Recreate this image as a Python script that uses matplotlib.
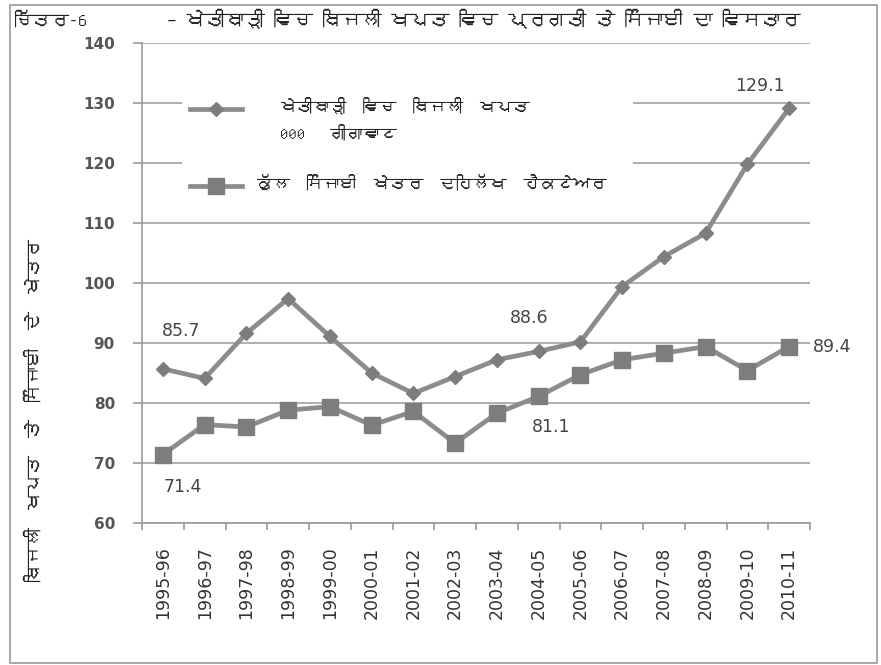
import matplotlib
matplotlib.use('Agg')
import matplotlib.pyplot as plt
from matplotlib import font_manager
from matplotlib.ft2font import FT2Font
from matplotlib.patches import Rectangle

years = ['1995-96', '1996-97', '1997-98', '1998-99', '1999-00', '2000-01',
         '2001-02', '2002-03', '2003-04', '2004-05', '2005-06', '2006-07',
         '2007-08', '2008-09', '2009-10', '2010-11']
# ਖੇਤੀਬਾੜੀ ਵਿਚ ਬਿਜਲੀ ਖਪਤ (000 ਗੀਗਾਵਾਟ)
power_use = [85.7, 84.1, 91.6, 97.4, 91.1, 85.0, 81.6, 84.4, 87.2, 88.6,
             90.2, 99.4, 104.4, 108.3, 119.8, 129.1]
# ਕੁੱਲ ਸਿੰਜਾਈ ਖੇਤਰ (ਲੱਖ ਹੈਕਟੇਅਰ)
irrigated = [71.4, 76.4, 76.0, 78.8, 79.4, 76.3, 78.6, 73.3, 78.3, 81.1,
             84.7, 87.2, 88.3, 89.4, 85.4, 89.4]

fig_label = 'ਚਿੱਤਰ-6'
title = '– ਖੇਤੀਬਾੜੀ ਵਿਚ ਬਿਜਲੀ ਖਪਤ ਵਿਚ ਪ੍ਰਗਤੀ ਤੇ ਸਿੰਜਾਈ ਦਾ ਵਿਸਤਾਰ'
ylabel = 'ਬਿਜਲੀ  ਖਪਤ  ਤੇ  ਸਿੰਜਾਈ  ਦੇ  ਖੇਤਰ'
label_power = ['ਖੇਤੀਬਾੜੀ  ਵਿਚ  ਬਿਜਲੀ  ਖਪਤ', '000   ਗੀਗਾਵਾਟ']
label_irr = 'ਕੁੱਲ  ਸਿੰਜਾਈ  ਖੇਤਰ  ਦਹਿਲੱਖ  ਹੈਕਟੇਅਰ'

# look for any installed font that has Gurmukhi glyphs, fall back to DejaVu
gurmukhi = []
for f in font_manager.fontManager.ttflist:
    try:
        cmap = FT2Font(f.fname).get_charmap()
    except Exception:
        continue
    if 0x0A16 in cmap and f.name not in gurmukhi:
        gurmukhi.append(f.name)
pa_fonts = gurmukhi + ['DejaVu Sans']

W, H = 881, 665
fig = plt.figure(figsize=(W / 100, H / 100), dpi=100)
ax = fig.add_axes([142 / W, 1 - 523 / H, (810 - 142) / W, 480 / H])


def ax_xy(px, py):
    # pixel position of the reference -> axes fraction
    return (px - 142) / 668, (523 - py) / 480


line_c = '#8c8c8c'
mark_c = '#7d7d7d'
x = list(range(len(years)))
style_p = dict(color=line_c, lw=3.4, marker='D', ms=7, mfc=mark_c, mec=mark_c)
style_i = dict(color=line_c, lw=3.4, marker='s', ms=12, mfc=mark_c, mec=mark_c)
ax.plot(x, power_use, zorder=4, **style_p)
ax.plot(x, irrigated, zorder=4, **style_i)

ax.set_xlim(-0.5, len(years) - 0.5)
ax.set_ylim(60, 140)
ax.set_yticks(range(60, 141, 10))
ax.yaxis.grid(True, color='#a8a8a8', lw=1.3)
ax.set_axisbelow(True)
for s in ['top', 'right']:
    ax.spines[s].set_visible(False)
for s in ['left', 'bottom']:
    ax.spines[s].set_color('#9a9a9a')
    ax.spines[s].set_linewidth(1.2)

ax.set_xticks(x)
ax.set_xticklabels(years, rotation=90, fontsize=12.5, color='#333333')
ax.set_xticks([i - 0.5 for i in range(len(years) + 1)], minor=True)
ax.tick_params(axis='x', which='major', length=0, pad=17)
ax.tick_params(axis='x', which='minor', length=5, color='#9a9a9a', width=1.2)
ax.tick_params(axis='y', length=6.5, color='#9a9a9a', width=1.2, pad=13)
for t in ax.get_yticklabels():
    t.set_fontsize(11)
    t.set_fontweight('bold')
    t.set_color('#555555')

# data labels
lab = dict(fontsize=12.5, color='#444444', ha='center', va='center',
           textcoords='offset points')
ax.annotate('85.7', (0, power_use[0]), xytext=(13, 27), **lab)
ax.annotate('71.4', (0, irrigated[0]), xytext=(14, -23), **lab)
ax.annotate('88.6', (9, power_use[9]), xytext=(-7, 24), **lab)
ax.annotate('81.1', (9, irrigated[9]), xytext=(9, -22), **lab)
ax.annotate('89.4', (15, irrigated[15]), xytext=(31, 0), **lab)
ax.annotate('129.1', (15, power_use[15]), xytext=(-21, 16), **lab)

# legend box, drawn by hand so the entries sit where they do in the original
x0, y0 = ax_xy(182, 210)
x1, y1 = ax_xy(633, 75)
ax.add_patch(Rectangle((x0, y0), x1 - x0, y1 - y0, transform=ax.transAxes,
                       facecolor='white', edgecolor='none', zorder=2))
for py, st in [(109, style_p), (186, style_i)]:
    hx0, hy = ax_xy(190, py)
    hx1, _ = ax_xy(242, py)
    ax.plot([hx0, hx1], [hy, hy], transform=ax.transAxes, clip_on=False,
            zorder=5, markevery=[], **st)
    ax.plot([(hx0 + hx1) / 2], [hy], transform=ax.transAxes, clip_on=False,
            zorder=5, **st)
leg_txt = dict(family=pa_fonts, fontsize=12, color='#222222', ha='left',
               va='center', transform=ax.transAxes, zorder=5)
ax.text(*ax_xy(280, 106), label_power[0], **leg_txt)
ax.text(*ax_xy(280, 133), label_power[1], **leg_txt)
ax.text(*ax_xy(257, 183), label_irr, **leg_txt)

fig.text(15 / W, 1 - 19 / H, fig_label, family=pa_fonts, fontsize=13,
         ha='left', va='center', color='#222222')
fig.text(167 / W, 1 - 19 / H, title, family=pa_fonts, fontsize=14,
         ha='left', va='center', color='#222222')
fig.text(33 / W, 1 - 410 / H, ylabel, family=pa_fonts, fontsize=13,
         rotation=90, ha='center', va='center', color='#222222')

fig.patches.append(Rectangle((10 / W, 2 / H), 867 / W, 658 / H,
                             transform=fig.transFigure, fill=False,
                             edgecolor='#a0a0a0', lw=1.3))

fig.savefig('out.png', dpi=100)
